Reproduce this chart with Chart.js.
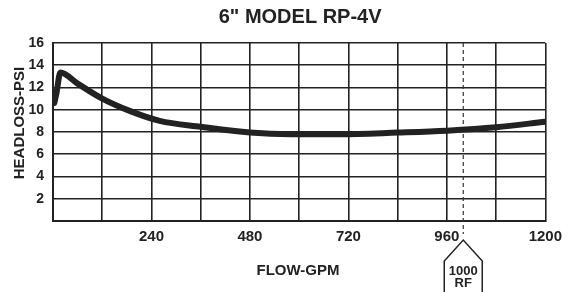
<!DOCTYPE html>
<html>
<head>
<meta charset="utf-8">
<script src="https://cdn.jsdelivr.net/npm/chart.js@4/dist/chart.umd.min.js"></script>
<style>
  html, body { margin: 0; padding: 0; background: #fff; }
  #wrap { width: 569px; height: 292px; position: relative; }
</style>
</head>
<body>
<div id="wrap"><canvas id="chart"></canvas></div>
<script>
// Chart data
const flowGpm = [3, 8, 18, 60, 120, 190, 260, 360, 480, 580, 700, 840, 960, 1080, 1200];
const headlossPsi = [10.6, 11.4, 13.35, 12.35, 11.0, 9.85, 9.0, 8.47, 7.95, 7.8, 7.8, 7.95, 8.12, 8.42, 8.93];
const yTicks = [2, 4, 6, 8, 10, 12, 14, 16];
const xTickLabels = [240, 480, 720, 960, 1200];
const ratedFlow = 1000;

const ink = '#222';
const font = 'Liberation Sans, Arial, sans-serif';

// Title, axis titles and the rated-flow marker
const decorations = {
    id: 'decorations',
    beforeDatasetsDraw(chart) {
        const ctx = chart.ctx;
        const area = chart.chartArea;
        const x = chart.scales.x.getPixelForValue(ratedFlow);
        ctx.save();
        ctx.strokeStyle = '#333';
        ctx.lineWidth = 1.2;
        ctx.setLineDash([4, 3]);
        ctx.beginPath();
        ctx.moveTo(x, area.top);
        ctx.lineTo(x, 234);
        ctx.stroke();
        ctx.restore();
    },
    afterDraw(chart) {
        const ctx = chart.ctx;
        const area = chart.chartArea;
        const mid = (area.left + area.right) / 2;
        ctx.save();
        ctx.fillStyle = ink;
        ctx.textAlign = 'center';
        ctx.textBaseline = 'middle';

        ctx.font = 'bold 20px ' + font;
        ctx.fillText('6" MODEL RP-4V', mid + 1, 17);

        ctx.font = 'bold 15px ' + font;
        ctx.fillText('FLOW-GPM', 298, 271);

        ctx.save();
        ctx.translate(19.5, 123);
        ctx.rotate(-Math.PI / 2);
        ctx.font = 'bold 15px ' + font;
        ctx.fillText('HEADLOSS-PSI', 0, 0);
        ctx.restore();

        // 1000 RF marker
        const x = chart.scales.x.getPixelForValue(ratedFlow);
        ctx.strokeStyle = ink;
        ctx.lineWidth = 1.5;
        ctx.beginPath();
        ctx.moveTo(x - 19, 295);
        ctx.lineTo(x - 19, 261);
        ctx.lineTo(x, 240);
        ctx.lineTo(x + 19, 261);
        ctx.lineTo(x + 19, 295);
        ctx.stroke();
        ctx.font = 'bold 13px ' + font;
        ctx.fillText('1000', x, 271);
        ctx.fillText('RF', x, 283);
        ctx.restore();
    }
};

new Chart(document.getElementById('chart'), {
    type: 'line',
    data: {
        datasets: [{
            data: flowGpm.map((f, i) => ({ x: f, y: headlossPsi[i] })),
            borderColor: ink,
            borderWidth: 6,
            borderCapStyle: 'round',
            borderJoinStyle: 'round',
            pointRadius: 0,
            cubicInterpolationMode: 'monotone',
            fill: false
        }]
    },
    options: {
        responsive: true,
        maintainAspectRatio: false,
        animation: false,
        layout: {
            padding: { left: 0, right: 16, top: 43, bottom: 0 }
        },
        plugins: {
            legend: { display: false },
            tooltip: { enabled: false }
        },
        scales: {
            x: {
                type: 'linear',
                min: 0,
                max: 1200,
                afterFit: s => { s.height = 71; },
                afterBuildTicks: s => {
                    s.ticks = [];
                    for (let v = 0; v <= 1200; v += 120) s.ticks.push({ value: v });
                },
                grid: { color: ink, lineWidth: 1.6, drawTicks: false },
                border: { color: ink, width: 2 },
                ticks: {
                    padding: 7,
                    color: ink,
                    font: { family: font, size: 15, weight: 'bold' },
                    callback: v => xTickLabels.includes(v) ? String(v) : ''
                }
            },
            y: {
                min: 0,
                max: 16,
                afterFit: s => { s.width = 53; },
                afterBuildTicks: s => {
                    s.ticks = [{ value: 0 }].concat(yTicks.map(v => ({ value: v })));
                },
                grid: { color: ink, lineWidth: 1.6, drawTicks: false },
                border: { color: ink, width: 2 },
                ticks: {
                    padding: 9,
                    color: ink,
                    font: { family: font, size: 14, weight: 'bold' },
                    callback: v => yTicks.includes(v) ? String(v) : ''
                }
            }
        }
    },
    plugins: [decorations]
});
</script>
</body>
</html>
